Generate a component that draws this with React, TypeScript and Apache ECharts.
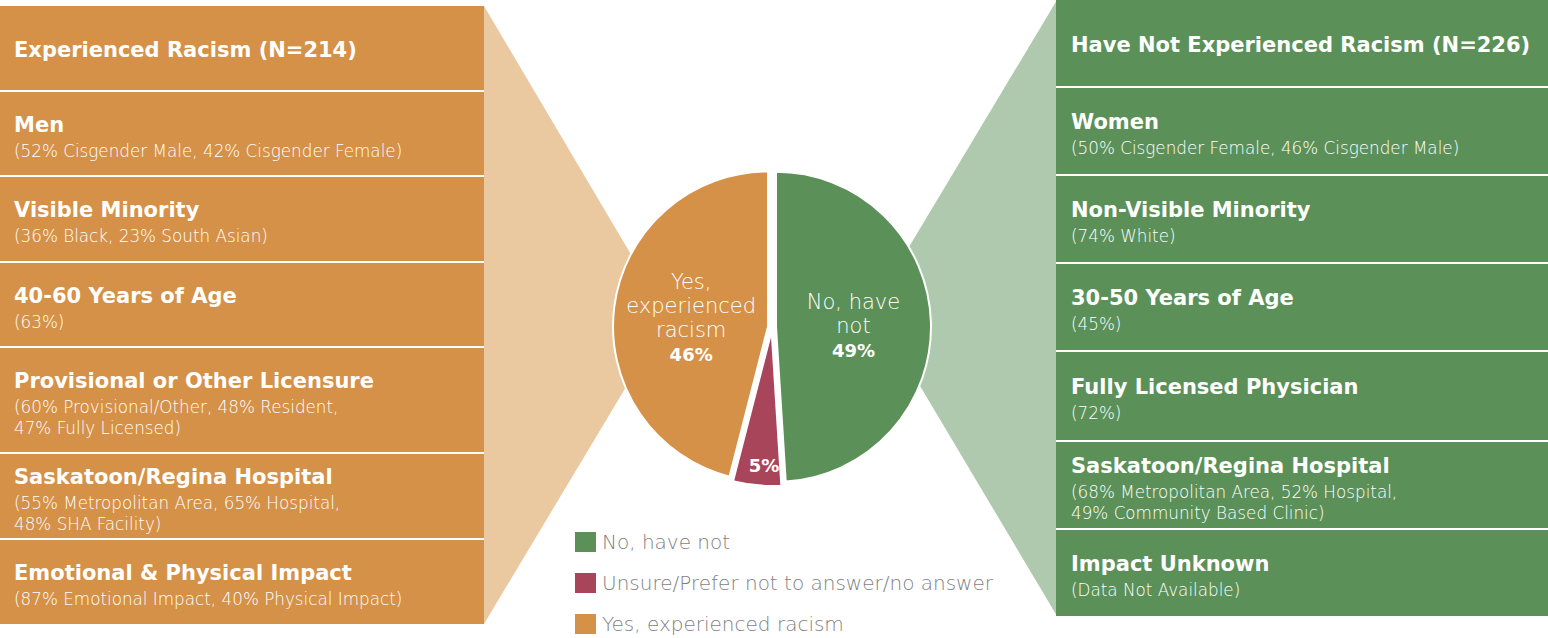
import React, { useEffect, useRef } from "react";
import * as echarts from "echarts";

const categories = ["No, have not", "Unsure/Prefer not to answer/no answer", "Yes, experienced racism"];
const values = [49, 5, 46];
const sliceLabels = ["No, have\nnot", "", "Yes,\nexperienced\nracism"];

const leftTitle = "Experienced Racism (N=214)";
const leftHeads = [
  "Men",
  "Visible Minority",
  "40-60 Years of Age",
  "Provisional or Other Licensure",
  "Saskatoon/Regina Hospital",
  "Emotional & Physical Impact",
];
const leftDetails = [
  "(52% Cisgender Male, 42% Cisgender Female)",
  "(36% Black, 23% South Asian)",
  "(63%)",
  "(60% Provisional/Other, 48% Resident,\n47% Fully Licensed)",
  "(55% Metropolitan Area, 65% Hospital,\n48% SHA Facility)",
  "(87% Emotional Impact, 40% Physical Impact)",
];

const rightTitle = "Have Not Experienced Racism (N=226)";
const rightHeads = [
  "Women",
  "Non-Visible Minority",
  "30-50 Years of Age",
  "Fully Licensed Physician",
  "Saskatoon/Regina Hospital",
  "Impact Unknown",
];
const rightDetails = [
  "(50% Cisgender Female, 46% Cisgender Male)",
  "(74% White)",
  "(45%)",
  "(72%)",
  "(68% Metropolitan Area, 52% Hospital,\n49% Community Based Clinic)",
  "(Data Not Available)",
];

// layout (not data)
const LEFT_EDGES = [6, 91, 176, 262, 347, 453, 539, 624];
const RIGHT_EDGES = [0, 87, 175, 263, 351, 441, 529, 616];
const ORANGE = "#D59147";
const ORANGE_LIGHT = "#EAC9A1";
const GREEN = "#5B9159";
const GREEN_LIGHT = "#AFC9AE";
const RED = "#A8455A";
const SLICE_COLORS = [GREEN, RED, ORANGE];
const BOLD_FONT = "'DejaVu Sans', Lato, sans-serif";
const LIGHT_FONT = "'DejaVu Sans', 'Open Sans', sans-serif";
const LIGHT_WEIGHT = 200;

function panel(x0: number, width: number, edges: number[], title: string, heads: string[], details: string[], color: string, textX: number) {
  const els: any[] = [];
  els.push({
    type: "rect",
    z: 1,
    shape: { x: x0, y: edges[0], width, height: edges[edges.length - 1] - edges[0] },
    style: { fill: color },
  });
  for (let i = 1; i < edges.length - 1; i++) {
    els.push({ type: "rect", z: 2, shape: { x: x0, y: edges[i] - 1, width, height: 2 }, style: { fill: "#ffffff" } });
  }
  els.push({
    type: "text",
    z: 3,
    x: textX,
    y: (edges[0] + edges[1]) / 2 + 1,
    style: { text: title, fill: "#ffffff", fontSize: 21, fontWeight: "bold", fontFamily: BOLD_FONT, align: "left", verticalAlign: "middle" },
  });
  heads.forEach((h, i) => {
    const T = edges[i + 1];
    const H = edges[i + 2] - T;
    const lines = details[i].split("\n");
    const span = 26 + 21 * (lines.length - 1);
    const mid = T + H / 2 + 4;
    const hy = mid - span / 2;
    els.push({
      type: "text",
      z: 3,
      x: textX,
      y: hy,
      style: { text: h, fill: "#ffffff", fontSize: 21, fontWeight: "bold", fontFamily: BOLD_FONT, align: "left", verticalAlign: "middle" },
    });
    lines.forEach((ln, j) => {
      els.push({
        type: "text",
        z: 3,
        x: textX,
        y: hy + 26 + 21 * j,
        style: { text: ln, fill: "#ffffff", fontSize: 16.8, fontWeight: LIGHT_WEIGHT, fontFamily: LIGHT_FONT, align: "left", verticalAlign: "middle" },
      });
    });
  });
  return els;
}

export default function App() {
  const ref = useRef<HTMLDivElement>(null);
  useEffect(() => {
    if (!ref.current) return;
    const chart = echarts.init(ref.current, undefined, { renderer: "svg" });
    const graphics: any[] = [
      { type: "polygon", z: 0, shape: { points: [[484, 6], [484, 624], [668, 317]] }, style: { fill: ORANGE_LIGHT } },
      { type: "polygon", z: 0, shape: { points: [[1057, 0], [1057, 616], [873, 307]] }, style: { fill: GREEN_LIGHT } },
      ...panel(0, 484, LEFT_EDGES, leftTitle, leftHeads, leftDetails, ORANGE, 14),
      ...panel(1056, 492, RIGHT_EDGES, rightTitle, rightHeads, rightDetails, GREEN, 1071),
    ];
    const adjust = [
      { dx: -3, dy: 2 },
      { dx: 0, dy: 54 },
      { dx: 3, dy: 2 },
    ];
    chart.setOption({
      animation: false,
      graphic: { elements: graphics },
      legend: {
        orient: "vertical",
        left: 573,
        top: 530,
        height: 140,
        padding: 0,
        itemWidth: 23,
        itemHeight: 22,
        itemGap: 17,
        icon: "rect",
        selectedMode: false,
        data: categories,
        textStyle: { fontSize: 20, lineHeight: 22, color: "#7F7F7F", fontFamily: LIGHT_FONT, fontWeight: LIGHT_WEIGHT },
      },
      series: [
        {
          type: "pie",
          z: 5,
          center: [772, 327],
          radius: 155,
          startAngle: 90,
          clockwise: true,
          selectedMode: "multiple",
          selectedOffset: 4,
          emphasis: { disabled: true },
          itemStyle: { borderColor: "#ffffff", borderWidth: 2 },
          select: { itemStyle: { borderColor: "#ffffff", borderWidth: 2 } },
          labelLine: { show: false },
          label: {
            show: true,
            position: "inside",
            formatter: (p: any) => {
              const txt = sliceLabels[p.dataIndex];
              const parts = txt ? txt.split("\n").map((s) => `{t|${s}}`).join("\n") + "\n" : "";
              return parts + `{b|${p.value}%}`;
            },
            rich: {
              t: { fontSize: 21, fontWeight: LIGHT_WEIGHT, color: "#ffffff", fontFamily: LIGHT_FONT, lineHeight: 24 },
              b: { fontSize: 18, fontWeight: "bold", color: "#ffffff", fontFamily: BOLD_FONT, lineHeight: 25 },
            },
          },
          labelLayout: (p: any) => adjust[p.dataIndex],
          data: categories.map((name, i) => ({
            name,
            value: values[i],
            selected: true,
            itemStyle: { color: SLICE_COLORS[i] },
          })),
        },
      ],
    });
    return () => chart.dispose();
  }, []);
  return <div ref={ref} style={{ position: "absolute", left: 0, top: 0, width: 1548, height: 638 }} />;
}
